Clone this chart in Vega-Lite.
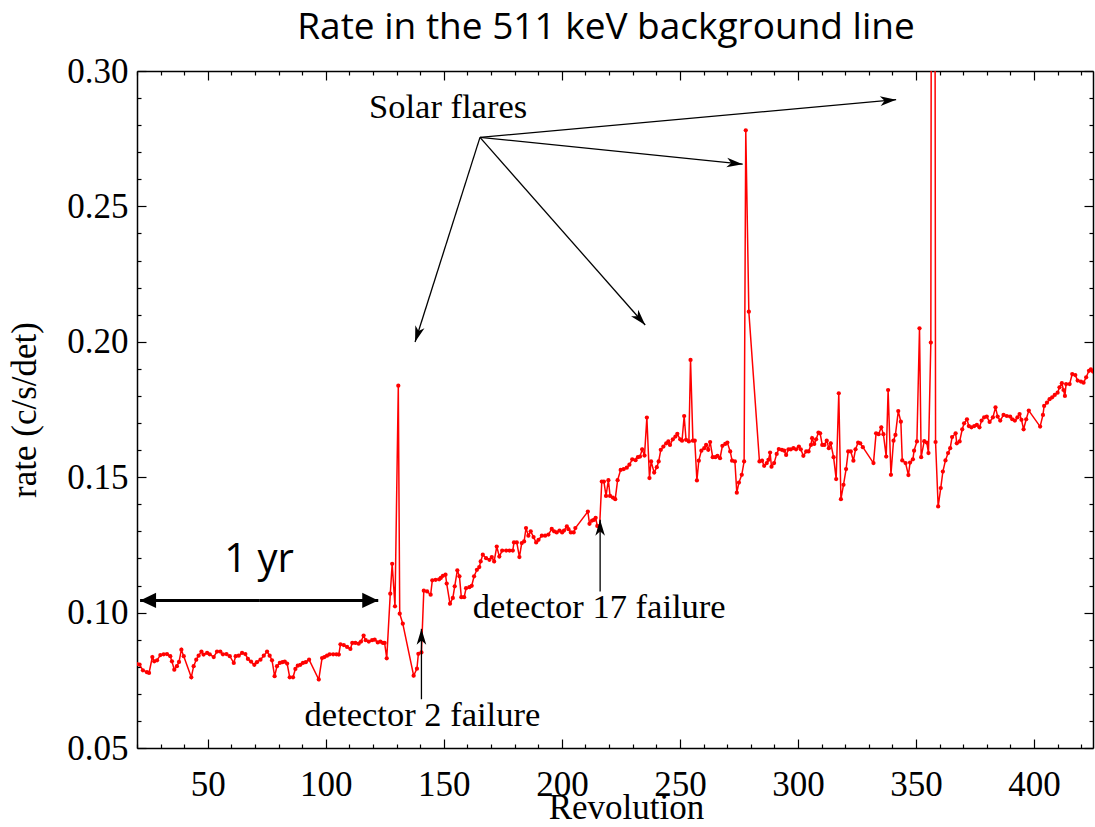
{
 "$schema": "https://vega.github.io/schema/vega-lite/v6.json",
 "width": 956, "height": 677,
 "autosize": {"type": "none"},
 "padding": {"left": 137, "top": 71, "right": 2, "bottom": 79},
 "background": "white",
 "title": {"text": "Rate in the 511 keV background line", "font": "Open Sans", "fontSize": 37, "fontWeight": "normal", "color": "black", "anchor": "middle", "frame": "group", "baseline": "bottom", "offset": -30, "dx": -9},
 "config": {
  "view": {"stroke": null},
  "axis": {"domainColor": "black", "tickColor": "black", "labelColor": "black", "titleColor": "black", "labelFont": "Liberation Serif", "titleFont": "Liberation Serif", "labelFontSize": 35, "titleFontSize": 35, "titleFontWeight": "normal", "grid": false, "domainWidth": 1.5, "tickWidth": 1.2, "labelFlush": false, "labelOverlap": false}
 },
 "datasets": {
  "rate": [
   {"rev":20.0,"rate":0.0810},{"rev":21.1,"rate":0.0808},{"rev":22.5,"rate":0.0787},{"rev":24.2,"rate":0.0780},{"rev":25.1,"rate":0.0777},{"rev":26.5,"rate":0.0836},{"rev":27.3,"rate":0.0820},{"rev":28.5,"rate":0.0824},{"rev":29.9,"rate":0.0843},{"rev":31.3,"rate":0.0846},{"rev":32.7,"rate":0.0847},{"rev":34.1,"rate":0.0839},{"rev":34.8,"rate":0.0820},{"rev":35.8,"rate":0.0789},{"rev":36.9,"rate":0.0802},{"rev":37.8,"rate":0.0818},{"rev":38.8,"rate":0.0863},{"rev":39.8,"rate":0.0839},{"rev":43.0,"rate":0.0761},{"rev":44.0,"rate":0.0802},{"rev":45.1,"rate":0.0826},{"rev":46.1,"rate":0.0841},{"rev":47.3,"rate":0.0856},{"rev":48.2,"rate":0.0845},{"rev":49.7,"rate":0.0851},{"rev":50.8,"rate":0.0846},{"rev":52.5,"rate":0.0836},{"rev":53.9,"rate":0.0856},{"rev":55.3,"rate":0.0856},{"rev":56.4,"rate":0.0846},{"rev":57.9,"rate":0.0847},{"rev":59.3,"rate":0.0839},{"rev":61.0,"rate":0.0814},{"rev":61.8,"rate":0.0839},{"rev":63.1,"rate":0.0841},{"rev":64.5,"rate":0.0851},{"rev":65.9,"rate":0.0847},{"rev":67.0,"rate":0.0829},{"rev":68.3,"rate":0.0819},{"rev":69.7,"rate":0.0807},{"rev":70.8,"rate":0.0817},{"rev":72.3,"rate":0.0826},{"rev":73.7,"rate":0.0841},{"rev":75.1,"rate":0.0856},{"rev":76.2,"rate":0.0841},{"rev":77.2,"rate":0.0824},{"rev":78.3,"rate":0.0765},{"rev":79.3,"rate":0.0802},{"rev":80.5,"rate":0.0814},{"rev":81.6,"rate":0.0817},{"rev":82.6,"rate":0.0819},{"rev":83.6,"rate":0.0812},{"rev":84.7,"rate":0.0761},{"rev":86.1,"rate":0.0761},{"rev":87.1,"rate":0.0792},{"rev":88.1,"rate":0.0804},{"rev":89.2,"rate":0.0807},{"rev":90.3,"rate":0.0814},{"rev":91.5,"rate":0.0817},{"rev":92.9,"rate":0.0826},{"rev":97.0,"rate":0.0753},{"rev":98.4,"rate":0.0832},{"rev":99.4,"rate":0.0836},{"rev":100.5,"rate":0.0841},{"rev":101.6,"rate":0.0846},{"rev":103.1,"rate":0.0846},{"rev":104.5,"rate":0.0846},{"rev":105.5,"rate":0.0845},{"rev":106.2,"rate":0.0883},{"rev":107.6,"rate":0.0880},{"rev":109.0,"rate":0.0873},{"rev":110.4,"rate":0.0866},{"rev":111.2,"rate":0.0888},{"rev":112.5,"rate":0.0888},{"rev":113.9,"rate":0.0885},{"rev":114.9,"rate":0.0893},{"rev":116.0,"rate":0.0915},{"rev":116.9,"rate":0.0898},{"rev":118.2,"rate":0.0893},{"rev":119.6,"rate":0.0898},{"rev":120.7,"rate":0.0900},{"rev":122.0,"rate":0.0890},{"rev":123.1,"rate":0.0893},{"rev":124.2,"rate":0.0888},{"rev":124.9,"rate":0.0888},{"rev":125.8,"rate":0.0831},
   {"rev":127.3,"rate":0.1070},{"rev":128.1,"rate":0.1180},{"rev":129.3,"rate":0.1023},{"rev":130.7,"rate":0.1838},{"rev":131.3,"rate":0.0996},{"rev":132.6,"rate":0.0959},{"rev":137.2,"rate":0.0767},{"rev":138.6,"rate":0.0793},{"rev":139.2,"rate":0.0848},{"rev":140.5,"rate":0.0853},{"rev":141.5,"rate":0.1081},{"rev":142.9,"rate":0.1078},{"rev":144.4,"rate":0.1066},{"rev":145.1,"rate":0.1119},{"rev":146.5,"rate":0.1121},{"rev":148.0,"rate":0.1123},{"rev":148.7,"rate":0.1128},{"rev":149.6,"rate":0.1136},{"rev":150.7,"rate":0.1140},{"rev":151.2,"rate":0.1107},{"rev":152.6,"rate":0.1033},{"rev":153.8,"rate":0.1054},{"rev":154.6,"rate":0.1097},{"rev":155.7,"rate":0.1156},{"rev":156.6,"rate":0.1134},{"rev":157.4,"rate":0.1057},{"rev":158.6,"rate":0.1057},{"rev":159.4,"rate":0.1090},{"rev":160.8,"rate":0.1094},{"rev":161.8,"rate":0.1099},{"rev":162.8,"rate":0.1134},{"rev":164.0,"rate":0.1158},{"rev":165.0,"rate":0.1168},{"rev":165.6,"rate":0.1189},{"rev":166.5,"rate":0.1214},{"rev":167.9,"rate":0.1201},{"rev":169.3,"rate":0.1195},{"rev":170.3,"rate":0.1205},{"rev":171.3,"rate":0.1189},{"rev":172.4,"rate":0.1244},{"rev":173.5,"rate":0.1207},{"rev":174.7,"rate":0.1229},{"rev":176.4,"rate":0.1229},{"rev":177.8,"rate":0.1229},{"rev":179.2,"rate":0.1229},{"rev":179.7,"rate":0.1259},{"rev":180.9,"rate":0.1259},{"rev":182.0,"rate":0.1205},{"rev":183.0,"rate":0.1257},{"rev":184.0,"rate":0.1263},{"rev":184.8,"rate":0.1312},{"rev":185.8,"rate":0.1284},{"rev":186.8,"rate":0.1300},{"rev":188.0,"rate":0.1279},{"rev":189.1,"rate":0.1259},{"rev":190.1,"rate":0.1269},{"rev":191.5,"rate":0.1284},{"rev":192.9,"rate":0.1284},{"rev":194.3,"rate":0.1288},{"rev":195.7,"rate":0.1309},{"rev":196.7,"rate":0.1300},{"rev":197.8,"rate":0.1296},{"rev":199.0,"rate":0.1303},{"rev":200.1,"rate":0.1296},{"rev":200.9,"rate":0.1303},{"rev":202.1,"rate":0.1318},{"rev":202.8,"rate":0.1308},{"rev":203.8,"rate":0.1296},{"rev":205.0,"rate":0.1296},{"rev":205.7,"rate":0.1312},{"rev":211.0,"rate":0.1373},{"rev":211.7,"rate":0.1328},{"rev":212.8,"rate":0.1340},{"rev":213.6,"rate":0.1342},{"rev":214.3,"rate":0.1350},{"rev":215.0,"rate":0.1320},{"rev":215.9,"rate":0.1305},
   {"rev":216.9,"rate":0.1484},{"rev":217.8,"rate":0.1484},{"rev":218.7,"rate":0.1431},{"rev":219.7,"rate":0.1489},{"rev":220.4,"rate":0.1431},{"rev":221.6,"rate":0.1425},{"rev":222.6,"rate":0.1419},{"rev":223.6,"rate":0.1489},{"rev":224.9,"rate":0.1527},{"rev":226.2,"rate":0.1530},{"rev":227.5,"rate":0.1535},{"rev":228.6,"rate":0.1546},{"rev":229.8,"rate":0.1566},{"rev":231.2,"rate":0.1563},{"rev":232.2,"rate":0.1574},{"rev":233.1,"rate":0.1576},{"rev":234.0,"rate":0.1603},{"rev":235.0,"rate":0.1580},{"rev":236.0,"rate":0.1720},{"rev":237.1,"rate":0.1497},{"rev":237.8,"rate":0.1558},{"rev":239.1,"rate":0.1517},{"rev":240.2,"rate":0.1537},{"rev":241.0,"rate":0.1558},{"rev":241.9,"rate":0.1601},{"rev":243.0,"rate":0.1613},{"rev":244.2,"rate":0.1625},{"rev":245.1,"rate":0.1632},{"rev":245.8,"rate":0.1619},{"rev":247.0,"rate":0.1640},{"rev":248.1,"rate":0.1650},{"rev":248.9,"rate":0.1660},{"rev":250.1,"rate":0.1640},{"rev":250.9,"rate":0.1635},{"rev":251.8,"rate":0.1726},{"rev":252.6,"rate":0.1638},{"rev":253.8,"rate":0.1632},{"rev":254.5,"rate":0.1933},{"rev":255.5,"rate":0.1635},{"rev":256.3,"rate":0.1635},{"rev":257.2,"rate":0.1488},{"rev":258.0,"rate":0.1561},{"rev":259.1,"rate":0.1598},{"rev":260.3,"rate":0.1607},{"rev":261.1,"rate":0.1619},{"rev":262.0,"rate":0.1601},{"rev":262.8,"rate":0.1630},{"rev":263.9,"rate":0.1574},{"rev":265.0,"rate":0.1574},{"rev":265.9,"rate":0.1579},{"rev":267.0,"rate":0.1570},{"rev":268.0,"rate":0.1616},{"rev":269.2,"rate":0.1623},{"rev":270.1,"rate":0.1628},{"rev":271.3,"rate":0.1595},{"rev":272.1,"rate":0.1561},{"rev":273.3,"rate":0.1558},{"rev":274.1,"rate":0.1443},{"rev":275.0,"rate":0.1480},{"rev":276.2,"rate":0.1509},{"rev":277.2,"rate":0.1558},{"rev":277.9,"rate":0.2781},{"rev":279.2,"rate":0.2111},{"rev":283.7,"rate":0.1558},{"rev":284.8,"rate":0.1561},{"rev":285.7,"rate":0.1542},{"rev":286.8,"rate":0.1552},{"rev":287.5,"rate":0.1564},{"rev":288.2,"rate":0.1591},{"rev":288.8,"rate":0.1539},{"rev":289.9,"rate":0.1552},{"rev":291.0,"rate":0.1586},{"rev":291.9,"rate":0.1604},{"rev":293.2,"rate":0.1601},{"rev":294.2,"rate":0.1598},{"rev":295.0,"rate":0.1582},{"rev":296.0,"rate":0.1603},{"rev":297.0,"rate":0.1603},{"rev":298.1,"rate":0.1607},{"rev":299.2,"rate":0.1603},{"rev":300.4,"rate":0.1613},{"rev":301.2,"rate":0.1603},{"rev":302.3,"rate":0.1579},{"rev":303.5,"rate":0.1595},{"rev":304.5,"rate":0.1595},{"rev":305.5,"rate":0.1619},{"rev":306.0,"rate":0.1644},{"rev":306.9,"rate":0.1623},{"rev":307.7,"rate":0.1640},{"rev":308.7,"rate":0.1665},{"rev":309.4,"rate":0.1662},{"rev":310.3,"rate":0.1619},{"rev":311.2,"rate":0.1619},{"rev":312.2,"rate":0.1635},{"rev":313.1,"rate":0.1607},{"rev":313.9,"rate":0.1625},{"rev":315.1,"rate":0.1574},{"rev":316.2,"rate":0.1493},{"rev":317.3,"rate":0.1810},{"rev":318.2,"rate":0.1419},{"rev":319.3,"rate":0.1472},{"rev":320.4,"rate":0.1530},{"rev":321.3,"rate":0.1595},{"rev":322.4,"rate":0.1595},{"rev":323.5,"rate":0.1561},{"rev":324.4,"rate":0.1603},{"rev":325.5,"rate":0.1628},{"rev":326.4,"rate":0.1625},{"rev":327.5,"rate":0.1611},{"rev":332.0,"rate":0.1552},{"rev":333.1,"rate":0.1662},{"rev":334.2,"rate":0.1659},{"rev":335.3,"rate":0.1684},{"rev":336.2,"rate":0.1659},{"rev":337.4,"rate":0.1576},{"rev":338.2,"rate":0.1822},{"rev":339.4,"rate":0.1509},{"rev":340.5,"rate":0.1635},{"rev":341.3,"rate":0.1656},{"rev":342.5,"rate":0.1744},{"rev":343.6,"rate":0.1705},{"rev":344.2,"rate":0.1562},{"rev":345.6,"rate":0.1552},{"rev":346.8,"rate":0.1508},{"rev":347.5,"rate":0.1554},{"rev":348.7,"rate":0.1566},{"rev":349.2,"rate":0.1598},{"rev":350.4,"rate":0.1632},{"rev":351.5,"rate":0.2050},{"rev":352.2,"rate":0.1574},{"rev":353.5,"rate":0.1633},{"rev":354.6,"rate":0.1628},{"rev":355.3,"rate":0.1589},{"rev":356.3,"rate":0.1997},{"rev":357.3,"rate":0.9000},{"rev":358.3,"rate":0.1630},{"rev":359.4,"rate":0.1392},{"rev":360.5,"rate":0.1460},{"rev":361.4,"rate":0.1521},{"rev":362.5,"rate":0.1562},{"rev":363.6,"rate":0.1589},{"rev":364.5,"rate":0.1607},{"rev":365.3,"rate":0.1648},{"rev":366.8,"rate":0.1662},{"rev":367.3,"rate":0.1625},{"rev":368.5,"rate":0.1632},{"rev":369.6,"rate":0.1677},{"rev":370.4,"rate":0.1699},{"rev":371.6,"rate":0.1714},{"rev":372.4,"rate":0.1689},{"rev":373.5,"rate":0.1684},{"rev":374.7,"rate":0.1689},{"rev":375.8,"rate":0.1693},{"rev":376.9,"rate":0.1684},{"rev":377.8,"rate":0.1709},{"rev":378.9,"rate":0.1721},{"rev":380.0,"rate":0.1724},{"rev":381.2,"rate":0.1704},{"rev":382.6,"rate":0.1721},{"rev":383.7,"rate":0.1758},{"rev":384.6,"rate":0.1724},{"rev":385.7,"rate":0.1709},{"rev":387.1,"rate":0.1730},{"rev":388.5,"rate":0.1726},{"rev":389.9,"rate":0.1724},{"rev":390.8,"rate":0.1714},{"rev":391.9,"rate":0.1709},{"rev":393.0,"rate":0.1721},{"rev":393.9,"rate":0.1733},{"rev":394.7,"rate":0.1712},{"rev":395.6,"rate":0.1677},{"rev":396.7,"rate":0.1714},{"rev":397.8,"rate":0.1746},{"rev":402.6,"rate":0.1687},{"rev":403.8,"rate":0.1730},{"rev":404.3,"rate":0.1763},{"rev":405.5,"rate":0.1775},{"rev":406.6,"rate":0.1788},{"rev":407.7,"rate":0.1795},{"rev":408.8,"rate":0.1804},{"rev":410.0,"rate":0.1812},{"rev":410.8,"rate":0.1832},{"rev":411.8,"rate":0.1847},{"rev":412.5,"rate":0.1822},{"rev":413.1,"rate":0.1800},{"rev":413.6,"rate":0.1844},{"rev":415.1,"rate":0.1844},{"rev":416.2,"rate":0.1881},{"rev":417.5,"rate":0.1877},{"rev":418.5,"rate":0.1857},{"rev":419.9,"rate":0.1853},{"rev":421.0,"rate":0.1849},{"rev":422.1,"rate":0.1869},{"rev":423.3,"rate":0.1893},{"rev":424.1,"rate":0.1898},{"rev":425.0,"rate":0.1890}
  ],
  "arrows": [
   {"kind":"note","x":165.3,"y":0.2755,"x2":137.8,"y2":0.1999},
   {"kind":"note","x":165.3,"y":0.2755,"x2":235.3,"y2":0.2062},
   {"kind":"note","x":165.3,"y":0.2755,"x2":276.6,"y2":0.2656},
   {"kind":"note","x":165.3,"y":0.2755,"x2":341.6,"y2":0.2894},
   {"kind":"note","x":140.5,"y":0.0680,"x2":140.5,"y2":0.0940},
   {"kind":"note","x":216.2,"y":0.1078,"x2":216.2,"y2":0.1343},
   {"kind":"span","x":71.75,"y":0.1045,"x2":21.3,"y2":0.1045},
   {"kind":"span","x":71.75,"y":0.1045,"x2":122.2,"y2":0.1045}
  ],
  "texts": [
   {"kind":"serif","label":"Solar flares","x":151.8,"y":0.2862},
   {"kind":"serif","label":"detector 2 failure","x":140.9,"y":0.0620},
   {"kind":"serif","label":"detector 17 failure","x":215.8,"y":0.1018},
   {"kind":"hand","label":"1 yr","x":71.7,"y":0.1151}
  ]
 },
 "layer": [
  {
   "data": {"name": "rate"},
   "mark": {"type": "line", "color": "#ff0000", "strokeWidth": 1.5, "clip": true, "point": {"filled": true, "size": 18, "color": "#ff0000"}},
   "encoding": {
    "x": {"field": "rev", "type": "quantitative", "scale": {"domain": [20, 425], "nice": false, "zero": false},
          "axis": {"orient": "bottom", "values": [50,100,150,200,250,300,350,400], "tickSize": -9, "labelPadding": 28, "title": "Revolution", "titlePadding": -12, "titleX": 489}},
    "y": {"field": "rate", "type": "quantitative", "scale": {"domain": [0.05, 0.30], "nice": false, "zero": false},
          "axis": {"orient": "left", "values": [0.05,0.10,0.15,0.20,0.25,0.30], "format": ".2f", "tickSize": -9, "labelPadding": 18, "title": "rate (c/s/det)", "titlePadding": 24}}
   }
  },
  {
   "data": {"name": "arrows"},
   "transform": [{"filter": "datum.kind === 'note'"}],
   "mark": {"type": "rule", "color": "black", "strokeWidth": 1.3},
   "encoding": {
    "x": {"field": "x", "type": "quantitative", "scale": {"domain": [20, 425], "nice": false, "zero": false},
          "axis": {"orient": "bottom", "values": [20,30,40,60,70,80,90,110,120,130,140,160,170,180,190,210,220,230,240,260,270,280,290,310,320,330,340,360,370,380,390,410,420], "tickSize": -4, "labels": false, "domain": false, "title": null}},
    "x2": {"field": "x2"},
    "y": {"field": "y", "type": "quantitative", "scale": {"domain": [0.05, 0.30], "nice": false, "zero": false},
          "axis": {"orient": "left", "values": [0.06,0.07,0.08,0.09,0.11,0.12,0.13,0.14,0.16,0.17,0.18,0.19,0.21,0.22,0.23,0.24,0.26,0.27,0.28,0.29], "tickSize": -4, "labels": false, "domain": false, "title": null}},
    "y2": {"field": "y2"}
   }
  },
  {
   "data": {"name": "arrows"},
   "transform": [{"filter": "datum.kind === 'note'"}, {"calculate": "atan2((datum.x2 - datum.x) * 2.3605, (datum.y2 - datum.y) * 2708) * 180 / PI", "as": "angle"}],
   "mark": {"type": "point", "filled": true, "color": "black", "opacity": 1, "size": 256, "shape": "M0,0 L-0.6,2 L0,1.45 L0.6,2 Z"},
   "encoding": {
    "x": {"field": "x2", "type": "quantitative", "scale": {"domain": [20, 425], "nice": false, "zero": false},
          "axis": {"orient": "top", "values": [50,100,150,200,250,300,350,400], "tickSize": -9, "labels": false, "title": null}},
    "y": {"field": "y2", "type": "quantitative", "scale": {"domain": [0.05, 0.30], "nice": false, "zero": false},
          "axis": {"orient": "right", "values": [0.05,0.10,0.15,0.20,0.25,0.30], "tickSize": -9, "labels": false, "title": null}},
    "angle": {"field": "angle", "type": "quantitative", "scale": null}
   }
  },
  {
   "data": {"name": "texts"},
   "transform": [{"filter": "datum.kind === 'serif'"}],
   "mark": {"type": "text", "font": "Liberation Serif", "fontSize": 34.5, "color": "black", "align": "center", "baseline": "middle"},
   "encoding": {
    "x": {"field": "x", "type": "quantitative", "scale": {"domain": [20, 425], "nice": false, "zero": false},
          "axis": {"orient": "top", "values": [20,30,40,60,70,80,90,110,120,130,140,160,170,180,190,210,220,230,240,260,270,280,290,310,320,330,340,360,370,380,390,410,420], "tickSize": -4, "labels": false, "domain": false, "title": null}},
    "y": {"field": "y", "type": "quantitative", "scale": {"domain": [0.05, 0.30], "nice": false, "zero": false},
          "axis": {"orient": "right", "values": [0.06,0.07,0.08,0.09,0.11,0.12,0.13,0.14,0.16,0.17,0.18,0.19,0.21,0.22,0.23,0.24,0.26,0.27,0.28,0.29], "tickSize": -4, "labels": false, "domain": false, "title": null}},
    "text": {"field": "label", "type": "nominal"}
   }
  },
  {
   "data": {"name": "arrows"},
   "transform": [{"filter": "datum.kind === 'span'"}],
   "mark": {"type": "rule", "color": "black", "strokeWidth": 3},
   "encoding": {
    "x": {"field": "x", "type": "quantitative", "scale": {"domain": [20, 425], "nice": false, "zero": false}, "axis": null},
    "x2": {"field": "x2"},
    "y": {"field": "y", "type": "quantitative", "scale": {"domain": [0.05, 0.30], "nice": false, "zero": false}, "axis": null},
    "y2": {"field": "y2"}
   }
  },
  {
   "data": {"name": "arrows"},
   "transform": [{"filter": "datum.kind === 'span'"}, {"calculate": "atan2((datum.x2 - datum.x) * 2.3605, (datum.y2 - datum.y) * 2708) * 180 / PI", "as": "angle"}],
   "mark": {"type": "point", "filled": true, "color": "black", "opacity": 1, "size": 256, "shape": "M0,0 L-0.95,2 L0.95,2 Z"},
   "encoding": {
    "x": {"field": "x2", "type": "quantitative", "scale": {"domain": [20, 425], "nice": false, "zero": false}, "axis": null},
    "y": {"field": "y2", "type": "quantitative", "scale": {"domain": [0.05, 0.30], "nice": false, "zero": false}, "axis": null},
    "angle": {"field": "angle", "type": "quantitative", "scale": null}
   }
  },
  {
   "data": {"name": "texts"},
   "transform": [{"filter": "datum.kind === 'hand'"}],
   "mark": {"type": "text", "font": "Open Sans", "fontSize": 40, "color": "black", "align": "center", "baseline": "alphabetic"},
   "encoding": {
    "x": {"field": "x", "type": "quantitative", "scale": {"domain": [20, 425], "nice": false, "zero": false}, "axis": null},
    "y": {"field": "y", "type": "quantitative", "scale": {"domain": [0.05, 0.30], "nice": false, "zero": false}, "axis": null},
    "text": {"field": "label", "type": "nominal"}
   }
  }
 ],
 "resolve": {"axis": {"x": "independent", "y": "independent"}}
}
